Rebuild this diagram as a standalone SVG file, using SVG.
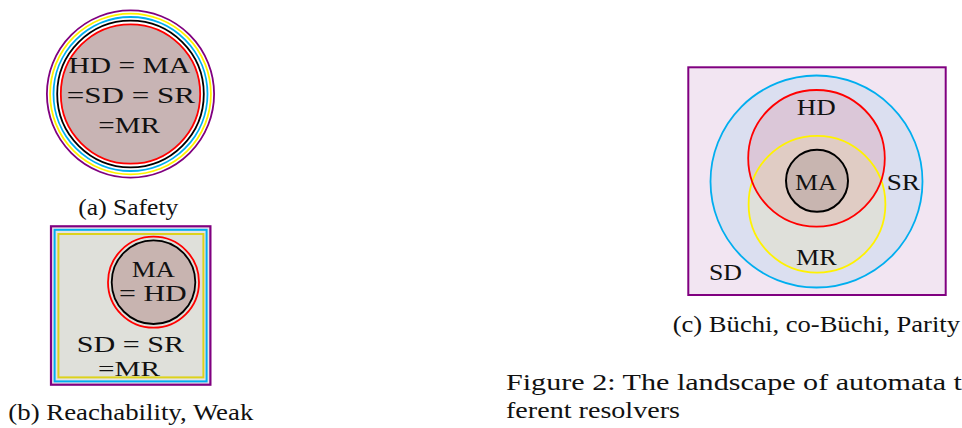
<svg xmlns="http://www.w3.org/2000/svg" width="962" height="428" viewBox="0 0 962 428" font-family="'Liberation Serif', 'Times New Roman', serif">
<style>
text{font-family:'Liberation Serif','Times New Roman',serif;fill:#111;}
.lbl{font-size:23px;}
.sm{font-size:20px;}
.cap{font-size:23px;}
.ring{fill:none;stroke-width:1.8;}
.pu{stroke:#800080;}
.cy{stroke:#00aeef;}
.ye{stroke:#fff200;}
.rd{stroke:#ff0000;}
.bk{stroke:#000;}
</style>
<defs>
<clipPath id="clipRed"><circle cx="816.5" cy="158.3" r="68.3"/></clipPath>
</defs>
<rect width="962" height="428" fill="#fff"/>

<g id="safety">
<circle cx="130.5" cy="94" r="70" fill="#c8b4b4"/>
<circle class="ring pu" cx="130.5" cy="94" r="83.6" stroke-width="2"/>
<circle class="ring ye" cx="130.5" cy="94" r="80.4" stroke-width="2"/>
<circle class="ring cy" cx="130.5" cy="94" r="77" stroke-width="2"/>
<circle class="ring bk" cx="130.5" cy="94" r="73.3" stroke-width="2"/>
<circle class="ring rd" cx="130.5" cy="94" r="69.7" stroke-width="2"/>
<text class="lbl" x="68.5" y="73.3" textLength="121.5" lengthAdjust="spacingAndGlyphs">HD = MA</text>
<text class="lbl" x="66.7" y="102.5" textLength="128.3" lengthAdjust="spacingAndGlyphs">=SD = SR</text>
<text class="lbl" x="98.3" y="133.3" textLength="61.7" lengthAdjust="spacingAndGlyphs">=MR</text>
<text class="cap" x="78.3" y="215" textLength="100" lengthAdjust="spacingAndGlyphs">(a) Safety</text>
</g>

<g id="reachability">
<rect x="51" y="226.3" width="159.4" height="158.4" fill="#ece4ec" stroke="#800080" stroke-width="2.2"/>
<rect x="54.6" y="229.8" width="152" height="151.6" fill="#e3e3e6" stroke="#00aeef" stroke-width="2"/>
<rect x="58.4" y="234" width="145" height="143.4" fill="#dfe0da" stroke="#ddd21c" stroke-width="2"/>
<circle cx="153.5" cy="282.2" r="41.8" fill="#c8b4b0"/>
<circle class="ring rd" cx="153.5" cy="282.2" r="45.5" stroke-width="2"/>
<circle class="ring bk" cx="153.5" cy="282.2" r="41.8" stroke-width="2"/>
<text class="lbl" x="131.7" y="276.7" textLength="43.3" lengthAdjust="spacingAndGlyphs">MA</text>
<text class="lbl" x="119" y="300.5" textLength="67.7" lengthAdjust="spacingAndGlyphs">= HD</text>
<text class="lbl" x="76.7" y="352.3" textLength="107.3" lengthAdjust="spacingAndGlyphs">SD = SR</text>
<text class="sm" x="98" y="375.5" textLength="62" lengthAdjust="spacingAndGlyphs">=MR</text>
<text class="cap" x="8.3" y="420" textLength="245" lengthAdjust="spacingAndGlyphs">(b) Reachability, Weak</text>
</g>

<g id="buchi">
<rect x="688.3" y="67.3" width="257.4" height="227.7" fill="#f2e5f2" stroke="#800080" stroke-width="2"/>
<circle cx="816.5" cy="181.5" r="106" fill="#dbdff0"/>
<circle cx="816.5" cy="158.3" r="68.3" fill="#dbc7d8"/>
<circle cx="817" cy="204.2" r="68.4" fill="#dfe0da"/>
<circle cx="817" cy="204.2" r="68.4" fill="#e0ccc4" clip-path="url(#clipRed)"/>
<circle class="ring cy" cx="816.5" cy="181.5" r="106" stroke-width="2"/>
<circle class="ring ye" cx="817" cy="204.2" r="68.4" stroke-width="2"/>
<circle class="ring rd" cx="816.5" cy="158.3" r="68.3" stroke-width="2"/>
<circle cx="817" cy="180.8" r="31" fill="#c8b5b0" stroke="#000" stroke-width="2"/>
<text class="lbl" x="796.7" y="115" textLength="39" lengthAdjust="spacingAndGlyphs">HD</text>
<text class="lbl" x="795" y="190" textLength="41.7" lengthAdjust="spacingAndGlyphs">MA</text>
<text class="lbl" x="886.7" y="190" textLength="33.3" lengthAdjust="spacingAndGlyphs">SR</text>
<text class="lbl" x="796" y="265" textLength="40.7" lengthAdjust="spacingAndGlyphs">MR</text>
<text class="lbl" x="709" y="280" textLength="33" lengthAdjust="spacingAndGlyphs">SD</text>
<text class="cap" x="672.7" y="332" textLength="287.3" lengthAdjust="spacingAndGlyphs">(c) Büchi, co-Büchi, Parity</text>
</g>

<g id="figure-caption">
<text class="cap" x="506" y="390" textLength="456" lengthAdjust="spacingAndGlyphs">Figure 2: The landscape of automata t</text>
<text class="cap" x="506" y="418" textLength="174" lengthAdjust="spacingAndGlyphs">ferent resolvers</text>
</g>

<g id="connectors"/>
</svg>
